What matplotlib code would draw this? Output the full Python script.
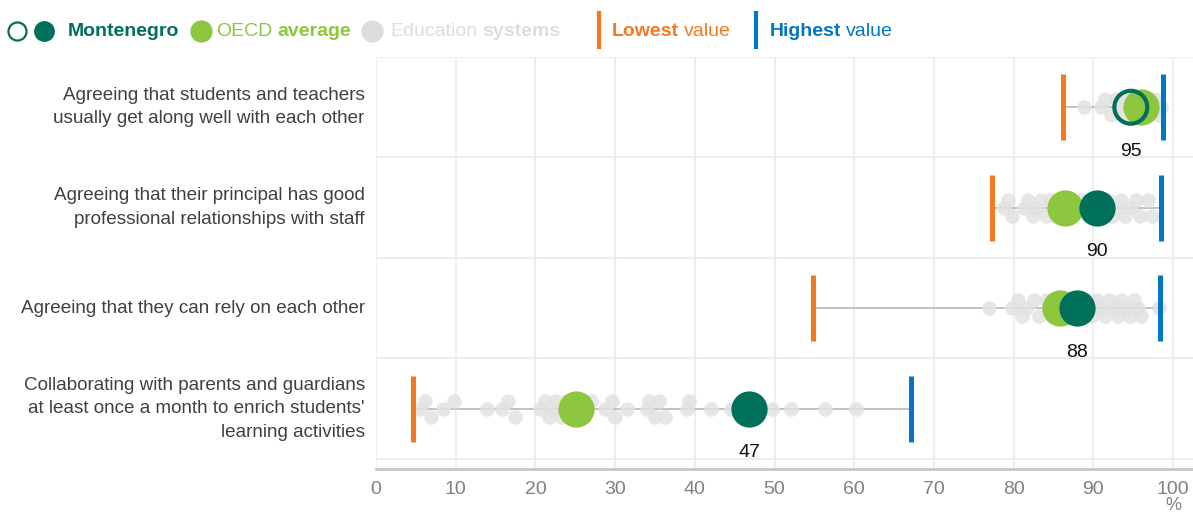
import numpy as np
import matplotlib
matplotlib.use("Agg")
import matplotlib.pyplot as plt

# data
labels = [
    "Agreeing that students and teachers\nusually get along well with each other",
    "Agreeing that their principal has good\nprofessional relationships with staff",
    "Agreeing that they can rely on each other",
    "Collaborating with parents and guardians\nat least once a month to enrich students'\nlearning activities",
]
montenegro = [94.7, 90.5, 88.0, 46.8]
montenegro_labels = ["95", "90", "88", "47"]
montenegro_open = [True, False, False, False]   # open marker = not significant
oecd = [96.0, 86.4, 85.8, 25.1]
lowest = [86.2, 77.3, 54.8, 4.6]
highest = [98.7, 98.5, 98.4, 67.1]

systems = [
    [88.8, 91.0, 91.5, 92.2, 92.8, 93.3, 93.8, 94.4, 95.0, 95.5, 96.1, 96.7, 97.2, 97.7, 98.2, 98.5],
    [78.8, 79.3, 79.8, 81.3, 81.8, 82.4, 82.9, 83.4, 84.0, 84.6, 85.2, 87.8, 88.5, 89.3, 91.2,
     91.8, 92.3, 92.9, 93.5, 94.0, 94.6, 95.3, 95.9, 96.8, 97.3],
    [76.9, 79.8, 80.5, 81.0, 81.6, 82.5, 83.2, 84.0, 84.8, 85.5, 86.5, 87.3, 88.6, 89.2, 89.8,
     90.4, 90.9, 91.5, 92.0, 92.6, 93.1, 93.5, 94.0, 94.6, 95.1, 95.6, 96.0, 98.2],
    [5.5, 6.2, 6.9, 8.4, 9.8, 13.9, 15.8, 16.6, 17.5, 20.6, 21.2, 21.7, 22.0, 22.4, 23.2, 23.8,
     26.5, 27.0, 28.7, 29.6, 30.0, 31.5, 34.0, 34.3, 35.0, 35.5, 36.3, 39.0, 39.3, 42.0, 44.5,
     49.7, 52.1, 56.3, 60.2],
]

DARK = "#00705a"
GREEN = "#8dc63f"
GREY_DOT = "#e2e2e2"
ORANGE = "#f47920"
BLUE = "#0077c0"

plt.rcParams['font.family'] = ['Liberation Sans', 'DejaVu Sans']

W, H = 1193, 514
fig = plt.figure(figsize=(W / 100, H / 100), dpi=100)
ax = fig.add_axes([376 / W, 1 - 469 / H, 1 - 376 / W, 412 / H])
ax.set_xlim(0, 102.5)
ax.set_ylim(3.6, -0.5)

# grid
for v in range(0, 101, 10):
    ax.axvline(v, color="#eeeeee", lw=1.5, zorder=0)
for yy in [-0.5, 0.5, 1.5, 2.5, 3.5]:
    ax.axhline(yy, color="#eeeeee", lw=1.5, zorder=0)


def swarm(vals, px_per_unit=7.97, step=8, min_dist=13):
    # simple beeswarm in pixel space, offsets returned in data units
    placed = []
    offs = []
    for v in vals:
        x = v * px_per_unit
        best, best_d = 0, -1
        for cand in [0, -step, step]:
            d = min([np.hypot(x - px, cand - py) for px, py in placed] + [99])
            if d >= min_dist:
                best = cand
                break
            if d > best_d:
                best, best_d = cand, d
        placed.append((x, best))
        offs.append(best)
    return np.array(offs) / 100.5


for i in range(4):
    ax.plot([lowest[i], highest[i]], [i, i], color="#bdbdbd", lw=1.3, zorder=1)
    offs = swarm(systems[i])
    ax.scatter(systems[i], i + offs, s=110, color=GREY_DOT, alpha=0.85, lw=0, zorder=2)
    ax.plot([lowest[i], lowest[i]], [i - 0.33, i + 0.33], color=ORANGE, lw=3.6, zorder=3,
            solid_capstyle="butt")
    ax.plot([highest[i], highest[i]], [i - 0.33, i + 0.33], color=BLUE, lw=3.6, zorder=3,
            solid_capstyle="butt")
    ax.scatter([oecd[i]], [i], s=680, color=GREEN, lw=0, zorder=4)
    if montenegro_open[i]:
        ax.scatter([montenegro[i]], [i], s=560, facecolor="none", edgecolor=DARK, lw=3, zorder=5)
    else:
        ax.scatter([montenegro[i]], [i], s=680, color=DARK, lw=0, zorder=5)
    ax.text(montenegro[i], i + 0.44, montenegro_labels[i], ha="center", va="center",
            fontsize=14, color="#111111", zorder=6)
    ax.text(-1.4, i, labels[i], ha="right", va="center", fontsize=13.6, color="#404040",
            linespacing=1.5)

ax.set_xticks(range(0, 101, 10))
ax.set_xticklabels([str(v) for v in range(0, 101, 10)], fontsize=14, color="#808080")
ax.tick_params(axis="x", length=0, pad=9)
ax.set_yticks([])
for s in ["top", "right", "left"]:
    ax.spines[s].set_visible(False)
ax.spines["bottom"].set_color("#c8c8c8")
ax.spines["bottom"].set_linewidth(2)
fig.text(1173 / W, 1 - 505 / H, "%", ha="center", va="center", fontsize=13, color="#808080")

# legend drawn by hand along the top, chained left to right
ly = 1 - 31 / H
renderer = fig.canvas.get_renderer()


def marker(px, **kw):
    fig.lines.append(plt.Line2D([px / W], [ly], marker="o", transform=fig.transFigure, **kw))


def bar(px, col):
    fig.lines.append(plt.Line2D([px / W, px / W], [1 - 13 / H, 1 - 47 / H], color=col, lw=3,
                                transform=fig.transFigure))


def word(px, txt, wt, col):
    t = fig.text(px / W, ly, txt, ha="left", va="center", fontsize=14, fontweight=wt, color=col)
    return px + t.get_window_extent(renderer).width


marker(17, ms=13, mfc="white", mec=DARK, mew=1.6)
marker(44, ms=14, mfc=DARK, mec=DARK)
cur = word(68, "Montenegro", "bold", DARK)
marker(cur + 22, ms=15, mfc=GREEN, mec=GREEN)
cur = word(cur + 37, "OECD", "normal", GREEN)
cur = word(cur + 5, "average", "bold", GREEN)
marker(cur + 21, ms=15, mfc="#dddddd", mec="#dddddd")
cur = word(cur + 39, "Education", "normal", "#dddddd")
cur = word(cur + 5, "systems", "bold", "#dddddd")
bar(cur + 38, ORANGE)
cur = word(cur + 51, "Lowest", "bold", ORANGE)
cur = word(cur + 5, "value", "normal", ORANGE)
bar(cur + 26, BLUE)
cur = word(cur + 39, "Highest", "bold", BLUE)
cur = word(cur + 5, "value", "normal", BLUE)

fig.savefig("out.png", dpi=100)
